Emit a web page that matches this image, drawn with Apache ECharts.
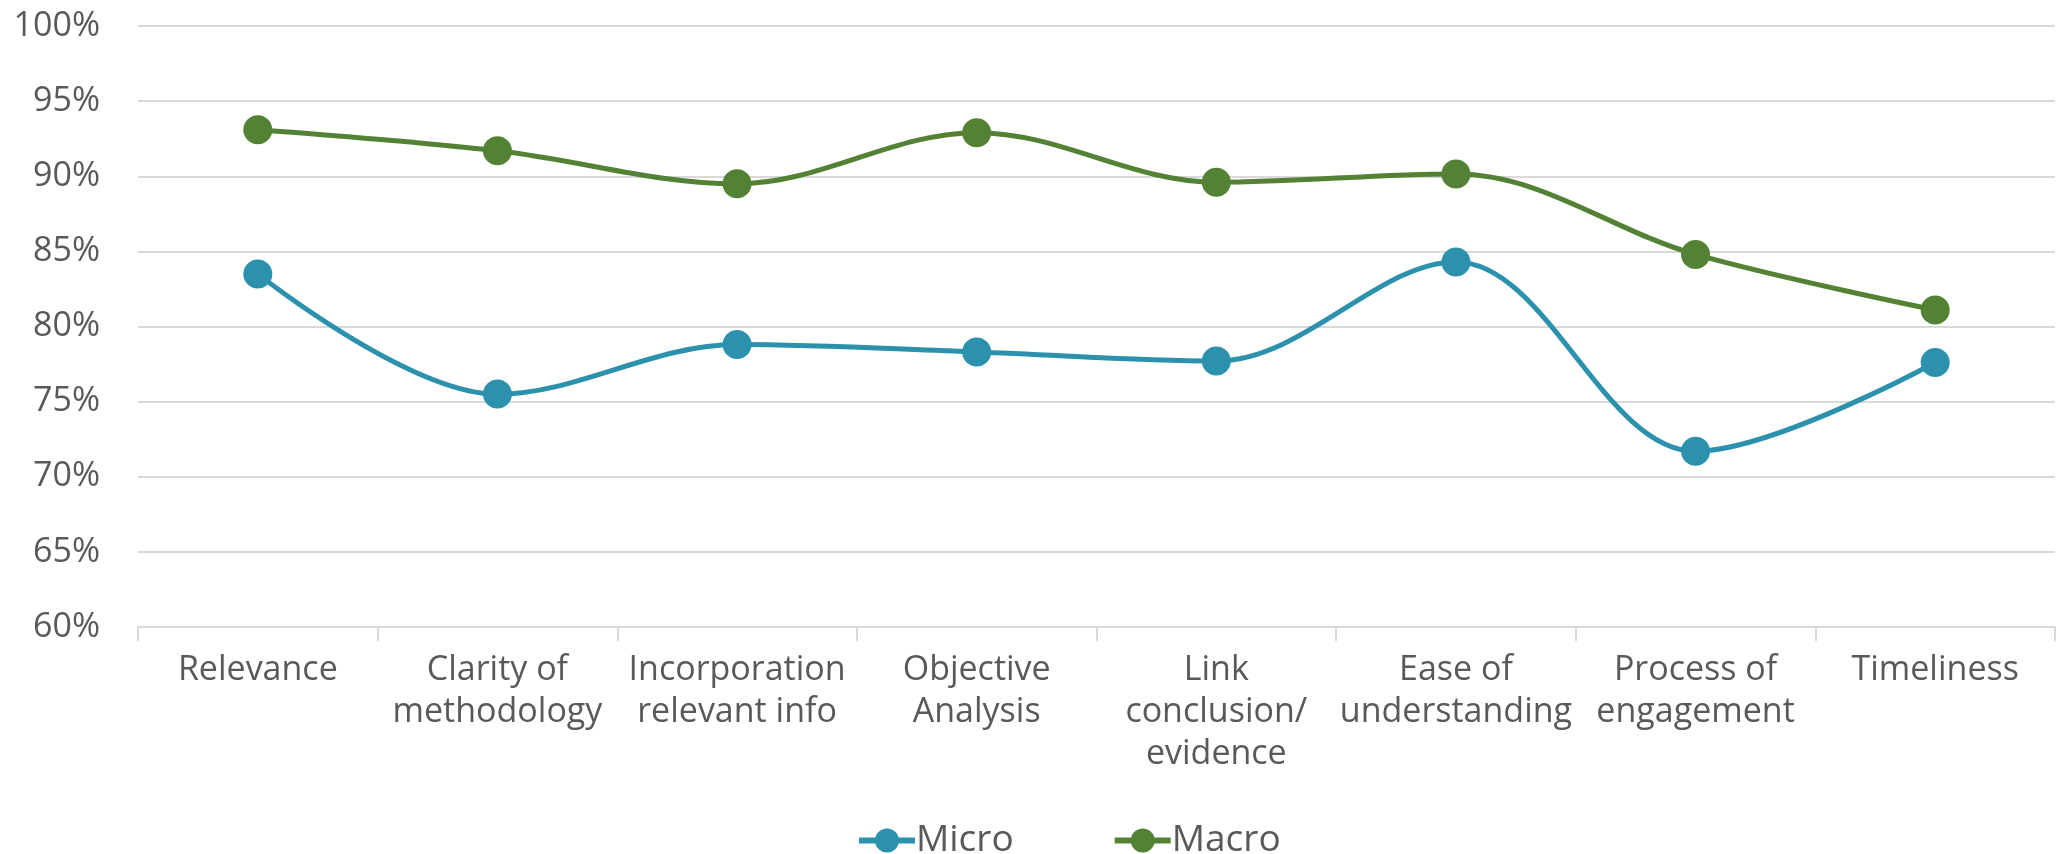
<!DOCTYPE html>
<html>
<head>
<meta charset="utf-8">
<script src="https://cdn.jsdelivr.net/npm/echarts@6/dist/echarts.min.js"></script>
<style>
  html, body { margin: 0; padding: 0; background: #ffffff; }
  #chart { width: 2057px; height: 854px; }
</style>
</head>
<body>
<div id="chart"></div>
<script>
// Assessment criteria along the x axis
const categories = [
  'Relevance',
  'Clarity of\nmethodology',
  'Incorporation\nrelevant info',
  'Objective\nAnalysis',
  'Link\nconclusion/\nevidence',
  'Ease of\nunderstanding',
  'Process of\nengagement',
  'Timeliness'
];

// Share of positive ratings, in percent
const microValues = [83.5, 75.5, 78.8, 78.3, 77.7, 84.3, 71.7, 77.6];
const macroValues = [93.1, 91.7, 89.5, 92.9, 89.6, 90.15, 84.8, 81.1];

const seriesNames = ['Micro', 'Macro'];
const seriesColors = ['#2b91ac', '#548235'];

const FONT = '"Open Sans", "Noto Sans", sans-serif';
const TEXT_COLOR = '#595959';

const chart = echarts.init(document.getElementById('chart'), null, { renderer: 'canvas' });

function lineSeries(name, data, color) {
  return {
    name: name,
    type: 'line',
    data: data,
    smooth: 0.35,
    symbol: 'circle',
    symbolSize: 29,
    lineStyle: { color: color, width: 5 },
    itemStyle: { color: color },
    emphasis: { disabled: true }
  };
}

chart.setOption({
  animation: false,
  backgroundColor: '#ffffff',
  textStyle: { fontFamily: FONT },
  grid: { left: 138, right: 2, top: 26, bottom: 227, containLabel: false },
  legend: {
    bottom: -10,
    left: 851,
    itemWidth: 56,
    itemHeight: 30,
    itemGap: 98,
    lineStyle: { width: 6 },
    textStyle: { fontFamily: FONT, fontSize: 37, color: TEXT_COLOR, padding: [0, 0, 0, -4] },
    data: seriesNames
  },
  xAxis: {
    type: 'category',
    data: categories,
    boundaryGap: true,
    axisLine: { show: true, lineStyle: { color: '#d9d9d9', width: 2 } },
    axisTick: { show: true, length: 14, lineStyle: { color: '#d9d9d9', width: 2 } },
    axisLabel: {
      fontFamily: FONT,
      fontSize: 34,
      color: TEXT_COLOR,
      lineHeight: 42,
      margin: 22,
      interval: 0
    },
    splitLine: { show: false }
  },
  yAxis: {
    type: 'value',
    min: 60,
    max: 100,
    interval: 5,
    axisLine: { show: false },
    axisTick: { show: false },
    axisLabel: {
      fontFamily: FONT,
      fontSize: 34,
      color: TEXT_COLOR,
      margin: 38,
      formatter: v => v + '%'
    },
    splitLine: { lineStyle: { color: '#d9d9d9', width: 2 } }
  },
  series: [
    lineSeries(seriesNames[0], microValues, seriesColors[0]),
    lineSeries(seriesNames[1], macroValues, seriesColors[1])
  ]
});
</script>
</body>
</html>
